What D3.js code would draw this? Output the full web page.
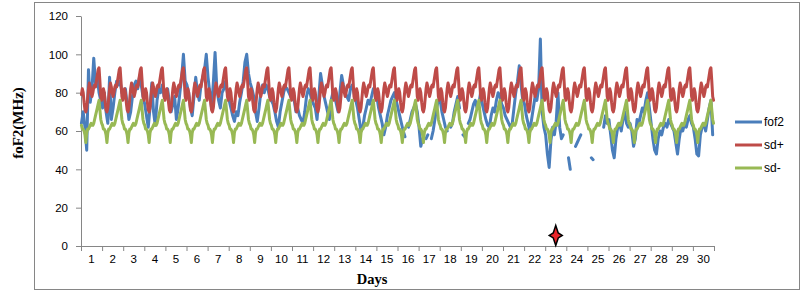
<!DOCTYPE html>
<html>
<head>
<meta charset="utf-8">
<script src="https://cdn.jsdelivr.net/npm/d3@7/dist/d3.min.js"></script>
<style>
body { margin: 0; background: #fff; }
.tick text { font-family: "Liberation Sans", Arial, sans-serif; font-size: 11.5px; fill: #000; }
</style>
</head>
<body>
<script>
// Tage (Kategorien der x-Achse)
var days = [1, 2, 3, 4, 5, 6, 7, 8, 9, 10, 11, 12, 13, 14, 15,
            16, 17, 18, 19, 20, 21, 22, 23, 24, 25, 26, 27, 28, 29, 30];
var yTicks = [0, 20, 40, 60, 80, 100, 120];
var seriesNames = ["fof2", "sd+", "sd-"];
var colors = ["#4A7EBB", "#BE4B48", "#98B954"];

// Tagesgang sd+ / sd- (Stunde 0..23), wiederholt sich jeden Tag
var sdPlusDay  = [79, 82, 80, 75, 71, 70, 72, 77, 82, 85, 83, 80,
                  78, 80, 83, 84, 83, 86, 89, 92, 93, 86, 78, 76];
var sdMinusDay = [63, 61, 61, 60, 58, 54, 59, 61, 61, 62, 63, 64,
                  63, 63, 64, 66, 68, 70, 72, 74, 76, 71, 66, 64];

// fof2 alle 2 Stunden (0,2,..,22 Uhr), eine Zeile pro Tag, null = Lücke
var fof2 = [
  [64, 70, 62, 50, 92, 75, 82, 98, 85, 88, 80, 76],
  [72, 80, 70, 64, 88, 66, 72, 80, 86, 84, 86, 80],
  [78, 82, 74, 66, 70, 78, 84, 86, 82, 88, 84, 78],
  [74, 68, 62, 72, 85, 70, 63, 76, 82, 80, 84, 78],
  [80, 82, 75, 70, 74, 78, 66, 72, 80, 88, 100, 86],
  [84, 80, 72, 68, 78, 88, 80, 76, 84, 88, 92, 100],
  [88, 80, 72, 85, 101, 82, 76, 72, 80, 82, 86, 80],
  [76, 72, 68, 65, 70, 68, 75, 80, 86, 96, 100, 90],
  [85, 82, 78, 70, 65, 72, 80, 84, 80, 84, 82, 78],
  [76, 74, 70, 65, 62, 70, 75, 80, 83, 82, 80, 78],
  [80, 76, 70, 72, 68, 66, 64, 70, 78, 82, 80, 76],
  [74, 72, 66, 78, 90, 84, 78, 74, 70, 66, 76, 80],
  [78, 74, 70, 80, 89, 84, 80, 78, 76, 82, 84, 80],
  [76, 72, 66, 60, 62, 68, 72, 76, 74, 78, 82, 80],
  [78, 72, 68, 64, 58, 62, 68, 72, 76, 78, 80, 76],
  [72, 68, 64, 60, 57, null, 62, 66, 70, 72, 74, 70],
  [62, 52, 56, null, 56, 58, null, 56, 60, 66, 72, 76],
  [76, 70, 66, 62, 60, null, 62, 64, 70, 74, 78, 72],
  [null, 58, 57, null, 64, 66, 70, 74, 76, 72, 74, 80],
  [74, 70, 66, 63, 62, 68, 72, 70, 76, 80, 78, 74],
  [72, 68, 66, 64, 62, 64, 72, 80, 86, 94, 84, 76],
  [74, 68, 64, 60, 66, 72, 78, 76, 82, 108, 70, 62],
  [58, 48, 41, 55, 62, 58, 65, 80, 62, 56, 58, null],
  [null, 46, 40, null, null, 52, 54, 56, 58, null, null, null],
  [null, null, 46, 45, null, null, null, null, null, 62, 68, 64],
  [66, 58, 50, 46, 56, 62, 64, 60, 66, 70, 64, 62],
  [64, 60, 52, 56, 66, 64, 68, 72, 70, 76, 80, 72],
  [64, 56, 50, 48, 56, 60, 58, 62, 64, 62, 66, 64],
  [62, 60, 54, 48, 56, 62, 60, 64, 62, 66, 68, 64],
  [62, 56, 48, 47, 58, 62, 64, 60, 66, 72, 76, 58]
];

// Markierung (Stern) an Tag 23
var starDay = 23;
var starValue = 5.5;

// Punkte aufbauen (Stundenindex ab Tag 1, 0 Uhr)
var fofPoints = [];
fof2.forEach((row, d) => {
    row.forEach((v, k) => { fofPoints.push({hour: d * 24 + k * 2, value: v}); });
});
var plusPoints = [], minusPoints = [];
days.forEach((day, d) => {
    sdPlusDay.forEach((v, h) => { plusPoints.push({hour: d * 24 + h, value: v}); });
    sdMinusDay.forEach((v, h) => { minusPoints.push({hour: d * 24 + h, value: v}); });
});

var width = 808, height = 296;
var plot = {left: 81, right: 714, top: 16, bottom: 246};

var svg = d3.select("body").append("svg")
    .attr("width", width)
    .attr("height", height);

// Rahmen
svg.append("rect")
    .attr("x", 34.5).attr("y", 2.5)
    .attr("width", 765).attr("height", 287)
    .attr("fill", "none")
    .attr("stroke", "#868686");

// Skalen
var xHour = d3.scaleLinear().domain([0, days.length * 24]).range([plot.left, plot.right]);
var xDay = d3.scaleBand().domain(days).range([plot.left, plot.right]);
var xEdge = d3.scaleLinear().domain([0, days.length]).range([plot.left, plot.right]);
var yScale = d3.scaleLinear().domain([0, 120]).range([plot.bottom, plot.top]);

// y-Achse
var yAxis = svg.append("g")
    .attr("transform", "translate(" + plot.left + ",0)")
    .call(d3.axisLeft(yScale).tickValues(yTicks).tickSize(5).tickSizeOuter(0).tickPadding(8));
yAxis.select(".domain").attr("stroke", "#868686");
yAxis.selectAll(".tick line").attr("stroke", "#868686");

// x-Achse: Striche an den Tagesgrenzen
var xTicks = svg.append("g")
    .attr("transform", "translate(0," + plot.bottom + ")")
    .call(d3.axisBottom(xEdge).tickValues(d3.range(0, days.length + 1)).tickFormat("").tickSize(5).tickSizeOuter(0));
xTicks.select(".domain").attr("stroke", "#868686");
xTicks.selectAll(".tick line").attr("stroke", "#868686");

// x-Achse: Beschriftung in der Mitte jedes Tages
var xLabels = svg.append("g")
    .attr("transform", "translate(0," + plot.bottom + ")")
    .call(d3.axisBottom(xDay).tickSize(0).tickPadding(9));
xLabels.select(".domain").remove();

// Linien
var line = d3.line()
    .defined(d => d.value != null)
    .x(d => xHour(d.hour + 0.5))
    .y(d => yScale(d.value));

[fofPoints, plusPoints, minusPoints].forEach((pts, i) => {
    svg.append("path")
        .datum(pts)
        .attr("fill", "none")
        .attr("stroke", colors[i])
        .attr("stroke-width", 3)
        .attr("stroke-linejoin", "round")
        .attr("stroke-linecap", "round")
        .attr("d", line);
});

// Stern
svg.append("path")
    .attr("d", "M0,-10L2.5,-2.5L6.5,0L2.5,2.5L0,10L-2.5,2.5L-6.5,0L-2.5,-2.5Z")
    .attr("transform", "translate(" + (xDay(starDay) + xDay.bandwidth() / 2) + "," + yScale(starValue) + ")")
    .attr("fill", "#E8242A")
    .attr("stroke", "#000")
    .attr("stroke-width", 1.5);

// Legende
var legend = svg.selectAll(".legend")
    .data(seriesNames)
    .enter().append("g")
    .attr("transform", (d, i) => "translate(735," + (122 + i * 23) + ")");
legend.append("line")
    .attr("x1", 0).attr("x2", 27)
    .attr("stroke", (d, i) => colors[i])
    .attr("stroke-width", 3);
legend.append("text")
    .attr("x", 29).attr("dy", "0.35em")
    .style("font-family", "Liberation Sans, Arial, sans-serif")
    .style("font-size", "12px")
    .text(d => d);

// Achsentitel
svg.append("text")
    .attr("transform", "translate(23,123) rotate(-90)")
    .attr("text-anchor", "middle")
    .style("font-family", "Liberation Serif, Times New Roman, serif")
    .style("font-weight", "bold")
    .style("font-size", "15px")
    .text("foF2(MHz)");

svg.append("text")
    .attr("x", 372).attr("y", 284)
    .attr("text-anchor", "middle")
    .style("font-family", "Liberation Serif, Times New Roman, serif")
    .style("font-weight", "bold")
    .style("font-size", "14.5px")
    .text("Days");
</script>
</body>
</html>
